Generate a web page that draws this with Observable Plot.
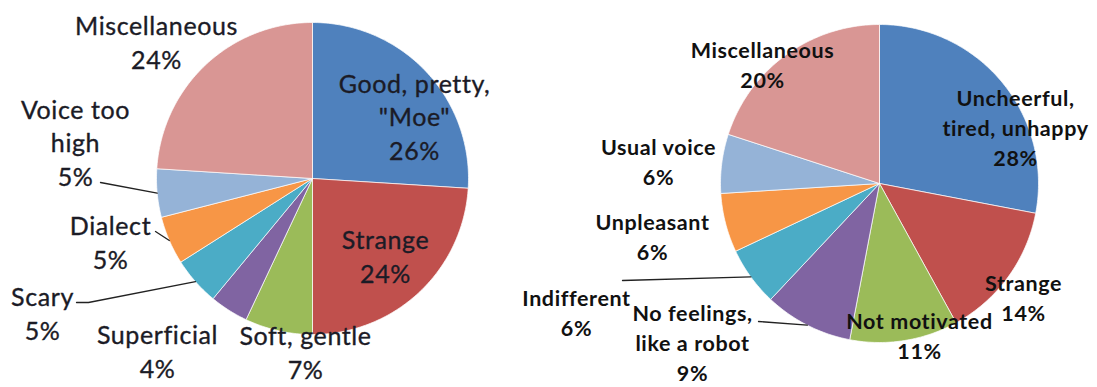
<!DOCTYPE html>
<html>
<head>
<meta charset="utf-8">
<script src="https://cdn.jsdelivr.net/npm/d3@7"></script>
<script src="https://cdn.jsdelivr.net/npm/@observablehq/plot@0.6"></script>
<style>
  html, body { margin: 0; padding: 0; background: #ffffff; }
  #chart { width: 1097px; height: 387px; overflow: hidden; }
</style>
</head>
<body>
<div id="chart"></div>
<script>
// ---------- DATA ----------
const leftCategories = ["Good, pretty,\n\"Moe\"", "Strange", "Soft, gentle", "Superficial", "Scary", "Dialect", "Voice too\nhigh", "Miscellaneous"];
const leftValues = [26, 24, 7, 4, 5, 5, 5, 24];

const rightCategories = ["Uncheerful,\ntired, unhappy", "Strange", "Not motivated", "No feelings,\nlike a robot", "Indifferent", "Unpleasant", "Usual voice", "Miscellaneous"];
const rightValues = [28, 14, 11, 9, 6, 6, 6, 20];

// ---------- STYLE / LAYOUT ----------
const palette = ["#4F81BD", "#C0504D", "#9BBB59", "#8064A2", "#4BACC6", "#F79646", "#95B3D7", "#D99694"];

const leftPie = {cx: 312, cy: 178, r: 156};
const rightPie = {cx: 879, cy: 183, r: 159};

// label block centres (x, y) in slice order
const leftLabelPos = [[414, 115], [385, 255], [305, 351], [157, 350], [42, 312], [110, 241], [75, 141], [156, 41]];
const rightLabelPos = [[1015, 126], [1023, 296], [919, 334], [692, 341], [576, 311], [652, 235], [658, 160], [762, 63]];

// leader lines: slice index -> text-side points (pie-side end is derived from the slice angle)
const leftLeaders = [[6, [[100, 182]]], [5, [[155, 231]]], [4, [[76, 302], [88, 302]]]];
const rightLeaders = [[4, [[622, 280]]], [3, [[758, 321]]]];

function buildSlices(cats, vals, pie, tag) {
  const arcs = d3.pie().sort(null).value(d => d)(vals);
  const pts = [];
  arcs.forEach((a, i) => {
    const key = tag + i;
    const color = palette[i % palette.length];
    pts.push({key, color, x: pie.cx, y: pie.cy});
    const steps = Math.max(2, Math.ceil((a.endAngle - a.startAngle) / (Math.PI / 180)));
    for (let k = 0; k <= steps; k++) {
      const t = a.startAngle + (a.endAngle - a.startAngle) * k / steps;
      pts.push({key, color, x: pie.cx + pie.r * Math.sin(t), y: pie.cy - pie.r * Math.cos(t)});
    }
    pts.push({key, color, x: pie.cx, y: pie.cy});
  });
  return {arcs, pts};
}

function buildLabels(cats, vals, pos) {
  return cats.map((c, i) => ({text: c + "\n" + vals[i] + "%", x: pos[i][0], y: pos[i][1]}));
}

function buildLeaders(arcs, pie, leaders, tag) {
  const out = [];
  leaders.forEach(([i, start]) => {
    const a = arcs[i];
    const m = (a.startAngle + a.endAngle) / 2;
    start.forEach(p => out.push({key: tag + i, x: p[0], y: p[1]}));
    out.push({key: tag + i, x: pie.cx + pie.r * Math.sin(m), y: pie.cy - pie.r * Math.cos(m)});
  });
  return out;
}

const L = buildSlices(leftCategories, leftValues, leftPie, "L");
const R = buildSlices(rightCategories, rightValues, rightPie, "R");
const leftLabels = buildLabels(leftCategories, leftValues, leftLabelPos);
const rightLabels = buildLabels(rightCategories, rightValues, rightLabelPos);
const leaderData = buildLeaders(L.arcs, leftPie, leftLeaders, "L").concat(buildLeaders(R.arcs, rightPie, rightLeaders, "R"));

const chart = Plot.plot({
  width: 1097,
  height: 387,
  margin: 0,
  style: {background: "#ffffff", overflow: "visible"},
  x: {domain: [0, 1097], range: [0, 1097], axis: null},
  y: {domain: [0, 387], range: [0, 387], axis: null},
  color: {type: "identity"},
  marks: [
    Plot.line(L.pts.concat(R.pts), {x: "x", y: "y", z: "key", fill: "color", stroke: "#ffffff", strokeWidth: 1, strokeOpacity: 0.7, curve: "linear"}),
    Plot.line(leaderData, {x: "x", y: "y", z: "key", stroke: "#222222", strokeWidth: 1.3}),
    Plot.text(leftLabels, {x: "x", y: "y", text: "text", fontSize: 25, fontFamily: "Lato", lineHeight: 1.34, lineAnchor: "middle", textAnchor: "middle", fill: "#1b1b26", stroke: "#1b1b26", strokeWidth: 0.35}),
    Plot.text(rightLabels, {x: "x", y: "y", text: "text", fontSize: 21.5, fontFamily: "Lato", fontWeight: "bold", lineHeight: 1.38, lineAnchor: "middle", textAnchor: "middle", fill: "#111111"})
  ]
});
// letter spacing to approximate the wider Calibri-like labels of the reference
const textGroups = chart.querySelectorAll('g[aria-label="text"]');
if (textGroups[0]) textGroups[0].setAttribute("letter-spacing", "0.6");
if (textGroups[1]) textGroups[1].setAttribute("letter-spacing", "0.6");
document.getElementById("chart").appendChild(chart);
</script>
</body>
</html>
